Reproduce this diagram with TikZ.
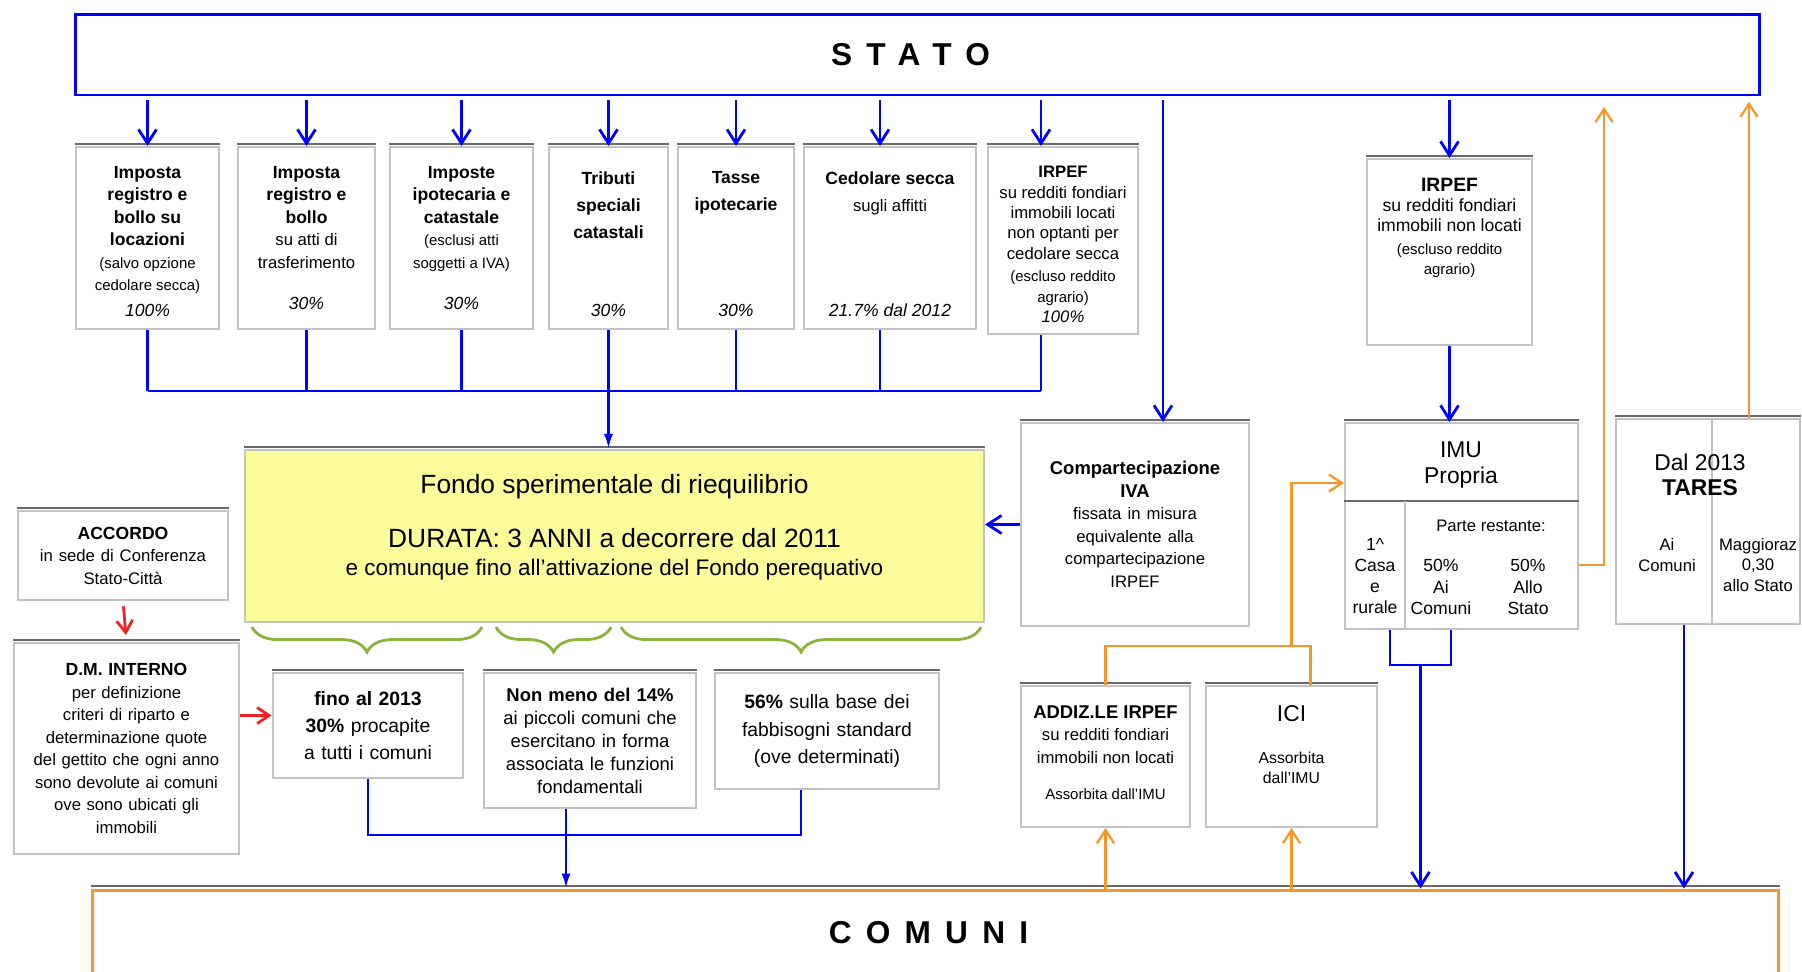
\documentclass[tikz,border=0pt]{standalone}
\usepackage{fontspec}
\setmainfont{Liberation Sans}
\newfontfamily\spacedfont{Liberation Sans}[LetterSpace=45]
\usepackage{tikz}
\usetikzlibrary{arrows.meta, calc, decorations.pathreplacing}
\definecolor{linkblue}{RGB}{0,0,255}
\definecolor{linkorange}{RGB}{247,150,40}
\definecolor{linkred}{RGB}{240,35,35}
\definecolor{bracegreen}{RGB}{140,180,60}
\definecolor{fondoyellow}{RGB}{252,252,155}
\definecolor{boxgray}{RGB}{195,195,195}
\definecolor{edgegray}{RGB}{105,105,105}

% text that sits at the top of a fixed-size box
\newcommand{\cellbox}[3]{\parbox[c][\dimexpr#2-14pt\relax][t]{\dimexpr#1-4pt\relax}{\centering\vspace*{4pt}#3}}
\newcommand{\smalltxt}{\fontsize{8.5}{12.8}\selectfont}
\newcommand{\subtxt}{\fontsize{9.5}{12.8}\selectfont}

\tikzset{
  taxbox/.style={draw=boxgray, line width=1.2pt, fill=white, inner xsep=2pt, inner ysep=7pt},
  plainbox/.style={draw=boxgray, line width=1.2pt, fill=white, inner sep=3pt, align=center},
  topedge/.style={draw=edgegray, line width=1.3pt},
  boxline/.style={draw=boxgray, line width=1.2pt},
  bluearrow/.style={draw=linkblue, line width=1.6pt, -{Straight Barb[length=2.8mm,width=3.6mm]}},
  bluetri/.style={draw=linkblue, line width=1.6pt, -{Latex[length=3mm,width=1.8mm]}},
  blueline/.style={draw=linkblue, line width=1.6pt},
  orangearrow/.style={draw=linkorange, line width=1.3pt, -{Straight Barb[length=2.6mm,width=3.4mm]}},
  orangeline/.style={draw=linkorange, line width=1.3pt},
  redarrow/.style={draw=linkred, line width=1.6pt, -{Straight Barb[length=2.4mm,width=3.2mm]}},
  greenbrace/.style={draw=bracegreen, line width=1.6pt, decorate, decoration={brace, mirror, amplitude=0.5cm}}
}

\begin{document}
\begin{tikzpicture}[x=0.02cm, y=-0.02cm, font=\fontsize{10}{12.8}\selectfont]
  \path[use as bounding box, fill=white] (0,0) rectangle (1802,971);

  % state and municipalities
  \node[draw=linkblue, line width=1.7pt, fill=white, minimum width=33.7cm, minimum height=1.62cm,
        font=\fontsize{18}{20}\selectfont\spacedfont\bfseries] (stato) at (917.5,54.5) {STATO\kern8pt};
  \node[draw=linkorange, line width=1.7pt, fill=white, minimum width=33.74cm, minimum height=1.72cm,
        font=\fontsize{18}{20}\selectfont\spacedfont\bfseries] (comuni) at (935.5,933) {COMUNI\kern8pt};

  % state taxes
  \node[taxbox] (b1) at (147.5,238) {\cellbox{2.86cm}{3.64cm}{\textbf{Imposta\\registro e\\bollo su\\locazioni}\\{\smalltxt(salvo opzione\\cedolare secca)}\par\vfill\textit{100\%}}};
  \node[taxbox] (b2) at (306.5,238) {\cellbox{2.74cm}{3.64cm}{\textbf{Imposta\\registro e\\bollo}\\{\subtxt su atti di\\trasferimento}\par\vfill\textit{30\%}\par\vspace{4pt}}};
  \node[taxbox] (b3) at (461.5,238) {\cellbox{2.86cm}{3.64cm}{\textbf{Imposte\\ipotecaria e\\catastale}\\{\smalltxt(esclusi atti\\soggetti  a IVA)}\par\vfill\textit{30\%}\par\vspace{4pt}}};
  \node[taxbox] (b4) at (608.5,238) {\cellbox{2.38cm}{3.64cm}{\vspace*{3pt}\textbf{Tributi\\[2.5pt]speciali\\[2.5pt]catastali}\par\vfill\textit{30\%}}};
  \node[taxbox] (b5) at (736,238) {\cellbox{2.32cm}{3.64cm}{\vspace*{3pt}\textbf{Tasse\\[2.5pt]ipotecarie}\par\vfill\textit{30\%}}};
  \node[taxbox] (b6) at (890,238) {\cellbox{3.44cm}{3.64cm}{\vspace*{3pt}\textbf{Cedolare secca}\\[2.5pt]{\subtxt sugli affitti}\par\vfill\textit{21.7\% dal 2012}}};
  \node[taxbox] (b7) at (1063,240.5) {\cellbox{3.0cm}{3.74cm}{\fontsize{9.5}{11.6}\selectfont\textbf{IRPEF}\\su redditi fondiari\\immobili locati\\non optanti per\\cedolare secca\\{\smalltxt(escluso reddito\\agrario)}\\\textit{100\%}}};

  \node[taxbox] (irpef) at (1449.5,252) {\cellbox{3.3cm}{3.72cm}{\fontsize{10}{11.4}\selectfont{\fontsize{11}{11.4}\selectfont\textbf{IRPEF}}\\su redditi fondiari\\immobili non locati\\{\smalltxt(escluso reddito\\agrario)}}};

  % fund
  \node[draw=boxgray, line width=1.2pt, fill=fondoyellow, minimum width=14.78cm, minimum height=3.44cm] (fondo) at (614.5,536) {};
  \node[align=center, inner sep=0pt, font=\fontsize{15}{16}\selectfont] (fondotitle) at (614.5,511)
    {Fondo sperimentale di riequilibrio\\[15pt]DURATA: 3 ANNI a decorrere dal 2011};
  \node[inner sep=0pt, font=\fontsize{12.8}{15}\selectfont] (fondosub) at (614.5,570)
    {e comunque fino all'attivazione del Fondo perequativo};

  \node[plainbox, minimum width=4.56cm, minimum height=4.06cm, text width=4.3cm, font=\fontsize{10.5}{12.9}\selectfont] (comp) at (1135,524.5)
    {\textbf{Compartecipazione\\IVA}\\{\subtxt fissata in misura\\equivalente alla\\compartecipazione\\IRPEF}};

  % IMU
  \node[draw=boxgray, line width=1.2pt, fill=white, minimum width=4.66cm, minimum height=4.12cm] (imu) at (1461.5,526) {};
  \draw[topedge] ($(imu.north west)+(0,79)$) -- ($(imu.north east)+(0,79)$);
  \draw[boxline] ($(imu.south west)+(61,0)$) -- ($(imu.north west)+(61,79)$);
  \node[align=center, font=\fontsize{13}{14.5}\selectfont] (imutitle) at (1461,465) {IMU\\Propria};
  \node[font=\subtxt] (imurest) at (1491,526) {Parte restante:};
  \node[align=center, font=\fontsize{10}{12}\selectfont] (imucasa) at (1375,576) {1\textasciicircum\\Casa\\e\\rurale};
  \node[align=center, font=\fontsize{10}{12}\selectfont] (imuaic) at (1441,587) {50\%\\Ai\\Comuni};
  \node[align=center, font=\fontsize{10}{12}\selectfont] (imuast) at (1528,587) {50\%\\Allo\\Stato};

  % TARES
  \node[draw=boxgray, line width=1.2pt, fill=white, minimum width=3.68cm, minimum height=4.1cm] (tares) at (1708,521.5) {};
  \draw[boxline] ($(tares.north west)+(97,0)$) -- ($(tares.south west)+(97,0)$);
  \node[align=center, font=\fontsize{13}{14}\selectfont] (tarestitle) at (1700,475) {Dal 2013\\\textbf{TARES}};
  \node[align=center, font=\fontsize{9.5}{11.6}\selectfont] (taresai) at (1667,555) {Ai\\Comuni};
  \node[align=center, font=\fontsize{9.5}{11.6}\selectfont] (taresmag) at (1758,565) {Maggioraz\\0,30\\allo Stato};

  % absorbed taxes
  \node[taxbox] (addiz) at (1105.5,756.5) {\cellbox{3.38cm}{2.82cm}{{\fontsize{10.5}{12.5}\selectfont\textbf{ADDIZ.LE IRPEF}}\\{\subtxt su redditi fondiari\\immobili non locati}\\[8pt]{\smalltxt Assorbita dall'IMU}}};
  \node[taxbox] (ici) at (1291.5,756.5) {\cellbox{3.42cm}{2.82cm}{\fontsize{9}{11.4}\selectfont{\fontsize{13}{11.4}\selectfont ICI}\\[12.5pt]Assorbita\\dall'IMU}};

  % agreement and decree
  \node[plainbox, minimum width=4.2cm, minimum height=1.78cm, text width=4cm] (acc) at (123,555.5)
    {\textbf{ACCORDO}\\{\subtxt in sede di Conferenza\\Stato-Città}};
  \node[plainbox, minimum width=4.5cm, minimum height=4.22cm, text width=4.3cm, font=\fontsize{9.5}{12.8}\selectfont] (dm) at (126.5,748.5)
    {{\fontsize{10}{12.8}\selectfont\textbf{D.M. INTERNO}}\\per definizione\\criteri di riparto e\\determinazione quote\\del gettito che ogni anno\\sono devolute ai comuni\\ove sono ubicati gli\\immobili};

  % shares of the fund
  \node[plainbox, minimum width=3.8cm, minimum height=2.1cm, text width=3.6cm, font=\fontsize{11}{15.4}\selectfont] (fino) at (368,725.5)
    {\textbf{fino al 2013}\\\textbf{30\%} procapite\\a tutti i comuni};
  \node[plainbox, minimum width=4.24cm, minimum height=2.7cm, text width=4.04cm, font=\fontsize{10.5}{13.1}\selectfont] (nonmeno) at (590,740.5)
    {\textbf{Non meno del 14\%}\\ai piccoli comuni che\\esercitano in forma\\associata le funzioni\\fondamentali};
  \node[plainbox, minimum width=4.48cm, minimum height=2.32cm, text width=4.28cm, font=\fontsize{11}{15.4}\selectfont] (cinq) at (827,731)
    {\textbf{56\%} sulla base dei\\fabbisogni standard\\(ove determinati)};

  % dark top edges
  \foreach \n in {b1,b2,b3,b4,b5,b6,b7,irpef,fondo,comp,imu,tares,addiz,ici,acc,dm,fino,nonmeno,cinq,comuni}
    \draw[topedge] ([yshift=1.3pt]\n.north west) -- ([yshift=1.3pt]\n.north east);

  % state to taxes, taxes to fund
  \coordinate (topbus) at (0,391);
  \foreach \b/\dx in {b1/0,b2/0,b3/0,b4/0,b5/0,b6/-10,b7/-22}{
    \coordinate (\b-t) at ($(\b.north)+(\dx,0)$);
    \coordinate (\b-s) at ($(\b.south)+(\dx,0)$);
    \draw[bluearrow, shorten <=2pt] (\b-t |- stato.south) -- (\b-t);
    \draw[blueline] (\b-s) -- (\b-s |- topbus);
  }
  \draw[blueline] (b1-s |- topbus) -- (b7-s |- topbus);
  \draw[bluetri] (b4-s |- topbus) -- (b4-s |- fondo.north);

  % VAT share
  \coordinate (compin) at ($(comp.north)+(28,0)$);
  \draw[bluearrow, shorten <=2pt] (compin |- stato.south) -- (compin);
  \draw[bluearrow] (comp.west) -- (comp.west -| fondo.east);

  % IRPEF and IMU
  \draw[bluearrow, shorten <=2pt] (irpef.north |- stato.south) -- (irpef.north);
  \draw[bluearrow] (irpef.south) -- (irpef.south |- imu.north);
  \coordinate (imuout) at ($(imu.east)+(0,39)$);
  \draw[orangearrow, shorten >=6pt] (imuout) -- ++(25,0) coordinate (turn) -- (turn |- stato.south);
  \coordinate (imuL) at ($(imu.south west)+(46,0)$);
  \coordinate (imuR) at ($(imu.south west)+(107,0)$);
  \draw[blueline] (imuL) -- ++(0,35) -| (imuR);
  \coordinate (imumid) at ($(imuL)!0.5!(imuR)+(0,35)$);
  \draw[bluearrow] (imumid) -- (imumid |- comuni.north);

  % TARES
  \coordinate (taresup) at ($(tares.north)+(41,0)$);
  \draw[orangearrow, shorten >=3pt] (taresup) -- (taresup |- stato.south);
  \coordinate (taresdn) at ($(tares.south)+(-24,0)$);
  \draw[bluearrow] (taresdn) -- (taresdn |- comuni.north);

  % absorbed into IMU
  \coordinate (icitop) at ($(ici.north)+(19,0)$);
  \draw[orangeline] (addiz.north) -- ++(0,-39) coordinate (ojoin) -| (icitop);
  \coordinate (imuin) at ($(imu.north west)+(0,61)$);
  \draw[orangearrow] (ici.north |- ojoin) |- (imuin);
  \draw[orangearrow] (addiz.south |- comuni.north) -- (addiz.south);
  \draw[orangearrow] (ici.south |- comuni.north) -- (ici.south);

  % agreement, decree, shares
  \draw[redarrow, shorten <=3pt, shorten >=4pt] (acc.south) -- (dm.north);
  \coordinate (finoin) at ($(fino.west)+(0,-10)$);
  \draw[redarrow] (dm.east |- finoin) -- (finoin);
  \draw[greenbrace] ($(fondo.south west)+(8,4)$) -- ($(fondo.south west)+(238,4)$);
  \draw[greenbrace] ($(fondo.south west)+(252,4)$) -- ($(fondo.south west)+(367,4)$);
  \draw[greenbrace] ($(fondo.south west)+(377,4)$) -- ($(fondo.south west)+(737,4)$);

  \coordinate (botbus) at (0,835);
  \coordinate (nmout) at ($(nonmeno.south)+(-24,0)$);
  \coordinate (c56out) at ($(cinq.south)+(-26,0)$);
  \draw[blueline] (fino.south) |- (c56out |- botbus) -- (c56out);
  \draw[bluetri] (nmout) -- (nmout |- comuni.north);
\end{tikzpicture}
\end{document}
